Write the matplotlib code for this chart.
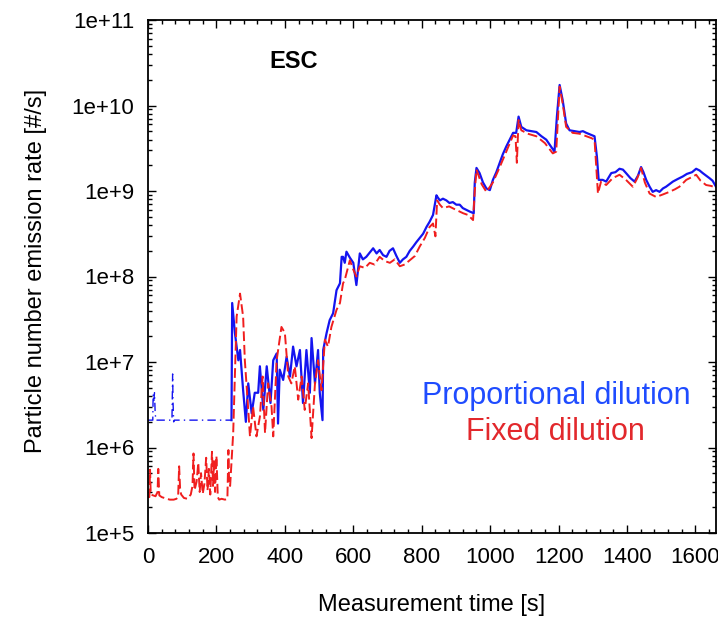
import numpy as np
import matplotlib
matplotlib.use("Agg")
import matplotlib.pyplot as plt
from matplotlib.ticker import MultipleLocator, LogLocator, FuncFormatter, NullFormatter

plt.rcParams['font.family'] = ['Liberation Sans', 'DejaVu Sans']

# values, y given as log10 of the emission rate [#/s]
blue_early_t = [0, 14, 15, 17, 19, 21, 23, 70, 72, 73, 75, 77, 240, 244]
blue_early_log = [6.32, 6.32, 6.62, 6.55, 6.64, 6.40, 6.32, 6.32, 6.86, 6.55, 6.30, 6.32, 6.32, 6.32]

blue_t = [244, 246, 254, 264, 269, 278, 286, 293, 303, 312, 322, 327, 337, 347, 358, 366,
          376, 380, 385, 395, 405, 415, 424, 434, 444, 453, 463, 473, 478, 488, 497, 502,
          510, 512, 522, 531, 541, 551, 561, 566, 570, 575, 580, 590, 600, 609, 619, 628,
          638, 648, 658, 668, 677, 687, 697, 706, 716, 726, 736, 745, 755, 765, 775, 784,
          794, 804, 814, 823, 833, 843, 846, 853, 862, 872, 881, 891, 901, 911, 920, 930,
          940, 952, 955, 960, 969, 979, 989, 999, 1008, 1018, 1028, 1037, 1047, 1057, 1067,
          1076, 1083, 1091, 1106, 1120, 1135, 1150, 1164, 1176, 1188, 1195, 1203, 1212, 1222,
          1232, 1246, 1261, 1271, 1281, 1293, 1305, 1312, 1317, 1329, 1339, 1354, 1366, 1378,
          1388, 1397, 1410, 1422, 1432, 1441, 1448, 1456, 1466, 1475, 1485, 1495, 1505, 1514,
          1524, 1534, 1548, 1563, 1575, 1590, 1602, 1612, 1621, 1631, 1641, 1650, 1660]
blue_log = [6.32, 7.69, 7.34, 7.02, 7.14, 6.67, 6.30, 6.75, 6.40, 6.64, 6.64, 6.95, 6.44, 6.95,
            6.52, 7.02, 7.10, 6.28, 6.91, 6.79, 7.06, 6.83, 7.18, 6.95, 7.14, 6.52, 7.14, 6.64,
            7.28, 6.75, 7.14, 6.64, 6.32, 7.14, 7.34, 7.49, 7.57, 7.84, 7.92, 8.23, 8.23, 8.16,
            8.29, 8.22, 8.16, 7.90, 8.27, 8.20, 8.23, 8.28, 8.33, 8.27, 8.31, 8.25, 8.23, 8.30,
            8.33, 8.24, 8.16, 8.20, 8.23, 8.30, 8.35, 8.40, 8.45, 8.50, 8.58, 8.64, 8.72, 8.95,
            8.93, 8.89, 8.91, 8.89, 8.86, 8.87, 8.84, 8.84, 8.80, 8.78, 8.76, 8.74, 9.10, 9.27,
            9.21, 9.10, 9.03, 9.01, 9.13, 9.22, 9.33, 9.43, 9.52, 9.60, 9.68, 9.68, 9.87, 9.75,
            9.71, 9.70, 9.69, 9.64, 9.60, 9.53, 9.46, 9.87, 10.24, 10.06, 9.79, 9.71, 9.70,
            9.69, 9.70, 9.68, 9.66, 9.64, 9.40, 9.13, 9.13, 9.11, 9.21, 9.22, 9.26, 9.25, 9.21,
            9.15, 9.11, 9.18, 9.28, 9.22, 9.13, 9.05, 8.99, 9.01, 8.99, 9.03, 9.05, 9.08, 9.11,
            9.14, 9.17, 9.20, 9.22, 9.26, 9.24, 9.21, 9.18, 9.15, 9.12, 9.05]

red_t = [0, 4, 6, 8, 22, 28, 30, 33, 40, 55, 64, 75, 83, 88, 91, 94, 97, 105, 115, 125,
         130, 133, 136, 142, 147, 151, 155, 160, 165, 170, 174, 178, 182, 187, 190, 193, 196,
         200, 204, 208, 215, 225, 232, 235, 237, 240, 249, 259, 269, 278, 283, 293, 298, 307,
         317, 327, 335, 342, 351, 361, 366, 376, 390, 400, 410, 419, 429, 439, 449, 458, 468,
         478, 488, 497, 507, 517, 526, 536, 551, 561, 570, 575, 590, 600, 609, 619, 634, 648,
         662, 677, 692, 707, 721, 736, 750, 765, 780, 794, 809, 823, 833, 840, 845, 853, 862,
         880, 900, 921, 935, 950, 955, 960, 975, 989, 1008, 1028, 1047, 1067, 1074, 1078,
         1083, 1091, 1110, 1135, 1160, 1183, 1193, 1203, 1212, 1222, 1241, 1261, 1281, 1295,
         1305, 1315, 1324, 1339, 1358, 1378, 1397, 1417, 1430, 1441, 1452, 1466, 1485, 1505,
         1524, 1540, 1553, 1573, 1588, 1602, 1615, 1631, 1645, 1660]
red_log = [5.42, 5.42, 5.74, 5.45, 5.43, 5.48, 5.75, 5.44, 5.42, 5.40, 5.39, 5.39, 5.40,
           5.42, 5.78, 5.50, 5.45, 5.41, 5.40, 5.45, 5.55, 5.93, 5.50, 5.60, 5.82, 5.48, 5.70,
           5.46, 5.58, 5.88, 5.50, 5.75, 5.45, 5.95, 5.55, 5.85, 5.48, 5.90, 5.42, 5.39, 5.40,
           5.39, 5.40, 5.97, 5.60, 5.55, 6.17, 7.53, 7.80, 7.53, 7.02, 6.44, 6.13, 6.48, 6.13,
           6.36, 6.83, 6.17, 6.75, 6.48, 6.13, 7.02, 7.41, 7.34, 6.83, 6.75, 6.95, 6.56, 6.83,
           6.44, 6.75, 6.11, 6.75, 7.02, 6.67, 7.26, 7.18, 7.41, 7.61, 7.69, 7.92, 7.96, 8.19,
           8.08, 8.00, 8.12, 8.10, 8.16, 8.14, 8.23, 8.18, 8.16, 8.20, 8.12, 8.14, 8.19, 8.24,
           8.35, 8.45, 8.58, 8.62, 8.47, 8.89, 8.84, 8.80, 8.82, 8.78, 8.74, 8.72, 8.66, 9.00,
           9.25, 9.08, 8.99, 9.10, 9.28, 9.46, 9.65, 9.64, 9.33, 9.83, 9.71, 9.67, 9.64, 9.56,
           9.44, 9.46, 10.22, 10.02, 9.75, 9.68, 9.67, 9.64, 9.62, 9.60, 8.97, 9.11, 9.07,
           9.15, 9.19, 9.13, 9.05, 9.15, 9.27, 9.10, 8.97, 8.93, 8.96, 8.99, 9.02, 9.05, 9.13,
           9.16, 9.19, 9.12, 9.07, 9.06, 9.04]

ytick_vals = [1e5, 1e6, 1e7, 1e8, 1e9, 1e10, 1e11]
xtick_vals = [0, 200, 400, 600, 800, 1000, 1200, 1400, 1600]

fig = plt.figure(figsize=(7.18, 6.18), dpi=100)
ax = fig.add_axes([148 / 718, 85 / 618, 568 / 718, 513 / 618])

blue = '#1414f0'
red = '#f01e1e'
ax.plot(blue_early_t, 10 ** np.array(blue_early_log), color=blue, lw=1.0,
        ls=(0, (6, 3, 1, 3)))
ax.plot(blue_t, 10 ** np.array(blue_log), color=blue, lw=1.6)
ax.plot(red_t, 10 ** np.array(red_log), color=red, lw=1.4, ls=(0, (5, 2)))

ax.set_yscale('log')
ax.set_xlim(0, 1660)
ax.set_ylim(1e5, 1e11)
ax.set_xticks(xtick_vals)
ax.xaxis.set_minor_locator(MultipleLocator(40))
ax.set_yticks(ytick_vals)
ax.yaxis.set_minor_locator(LogLocator(base=10, subs=np.arange(2, 10)))
ax.yaxis.set_minor_formatter(NullFormatter())
ax.yaxis.set_major_formatter(FuncFormatter(lambda v, p: "1e+%d" % round(np.log10(v))))

ax.tick_params(which='both', direction='in', top=True, right=True, labelsize=16, width=1.0)
ax.tick_params(which='major', length=6, pad=10)
ax.tick_params(which='minor', length=3)
for s in ax.spines.values():
    s.set_linewidth(1.3)

ax.set_xlabel('Measurement time [s]', fontsize=17)
ax.set_ylabel('Particle number emission rate [#/s]', fontsize=17)
ax.xaxis.set_label_coords(0.5, -0.118)
ax.yaxis.set_label_coords(-0.178, 0.51)

ax.text(426, 10 ** 10.51, 'ESC', fontsize=17, fontweight='bold', ha='center', va='center')
ax.text(0.718, 0.268, 'Proportional dilution', transform=ax.transAxes, fontsize=22,
        color='#1f4cff', ha='center', va='center')
ax.text(0.718, 0.196, 'Fixed dilution', transform=ax.transAxes, fontsize=22,
        color='#e2282c', ha='center', va='center')

fig.savefig('out.png', dpi=100)
